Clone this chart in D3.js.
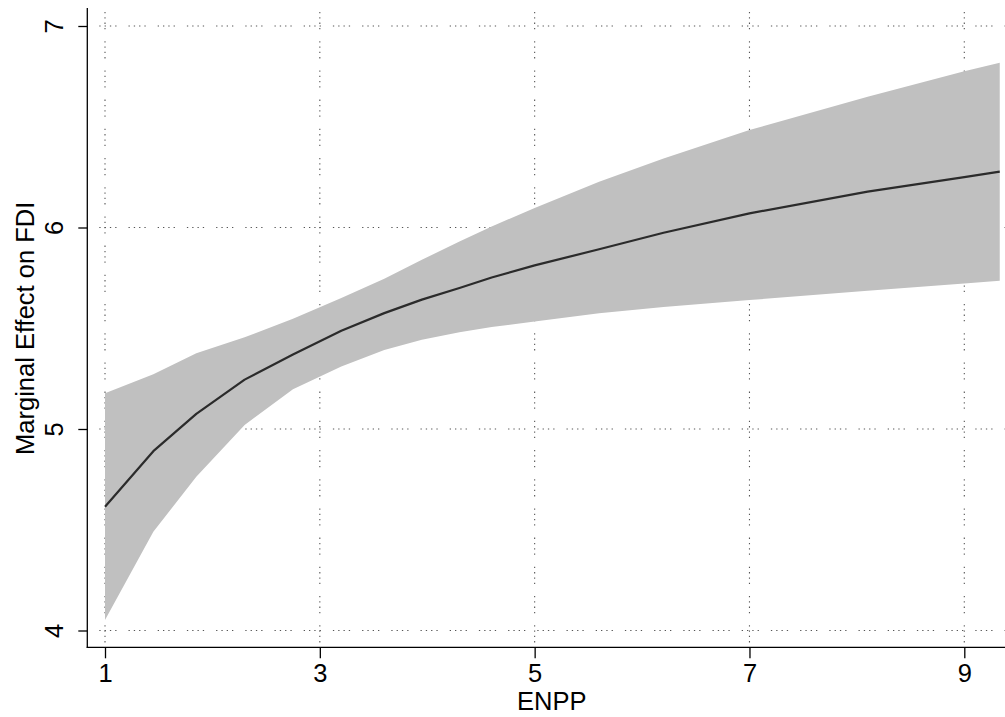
<!DOCTYPE html>
<html>
<head>
<meta charset="utf-8">
<script src="https://cdn.jsdelivr.net/npm/d3@7"></script>
<style>
  html, body { margin: 0; padding: 0; background: #fff; }
  svg { display: block; }
  text { font-family: "Liberation Sans", Arial, Helvetica, sans-serif; fill: #000; }
</style>
</head>
<body>
<svg id="chart" width="1005" height="717"></svg>
<script>
// ---- data ----
const enpp   = [1, 1.45, 1.85, 2.3, 2.75, 3.2, 3.6, 3.95, 4.3, 4.6, 5.0, 5.6, 6.2, 7.0, 8.1, 9.0, 9.33];
const upper  = [5.177, 5.272, 5.376, 5.455, 5.547, 5.650, 5.746, 5.840, 5.930, 6.005, 6.097, 6.227, 6.342, 6.484, 6.649, 6.775, 6.818];
const lower  = [4.052, 4.490, 4.763, 5.020, 5.197, 5.310, 5.392, 5.443, 5.480, 5.506, 5.533, 5.575, 5.605, 5.640, 5.686, 5.722, 5.736];
const effect = [4.614, 4.890, 5.075, 5.245, 5.370, 5.488, 5.575, 5.642, 5.700, 5.752, 5.812, 5.892, 5.974, 6.070, 6.178, 6.250, 6.277];
const xTicks = [1, 3, 5, 7, 9];
const yTicks = [4, 5, 6, 7];
const xTitle = "ENPP";
const yTitle = "Marginal Effect on FDI";

const rows = enpp.map((v, i) => ({ x: v, lo: lower[i], hi: upper[i], y: effect[i] }));

const svg = d3.select("#chart");
svg.append("rect").attr("width", 1005).attr("height", 717).attr("fill", "#fff");

const axisX = 87.3, axisY = 647.3;
const x = d3.scaleLinear().domain([1, 9]).range([105, 964.3]);
const y = d3.scaleLinear().domain([4, 7]).range([630.5, 26]);
const fontSize = 25.5;

// grid (under the band)
const grid = svg.append("g").attr("stroke", "#555").attr("stroke-width", 1.1)
  .attr("stroke-dasharray", "1.3,4,1.3,4,1.3,4,1.3,12");
grid.selectAll("line.h").data(yTicks).join("line")
  .attr("x1", axisX + 12).attr("x2", 1005)
  .attr("y1", d => y(d)).attr("y2", d => y(d));
grid.selectAll("line.v").data(xTicks).join("line")
  .attr("x1", d => x(d)).attr("x2", d => x(d))
  .attr("y1", 12).attr("y2", axisY - 4);

// confidence band
svg.append("path").datum(rows)
  .attr("fill", "#c0c0c0")
  .attr("d", d3.area().x(d => x(d.x)).y0(d => y(d.lo)).y1(d => y(d.hi)));

// marginal effect line
svg.append("path").datum(rows)
  .attr("fill", "none").attr("stroke", "#2b2b2b").attr("stroke-width", 2.2)
  .attr("stroke-linejoin", "round")
  .attr("d", d3.line().x(d => x(d.x)).y(d => y(d.y)));

// axes
const gy = svg.append("g").attr("transform", `translate(${axisX},0)`)
  .call(d3.axisLeft(y).tickValues(yTicks).tickSize(9).tickSizeOuter(0).tickFormat(d3.format("d")));
gy.select(".domain").remove();
gy.selectAll(".tick line").attr("stroke", "#000").attr("stroke-width", 1.3);
gy.selectAll(".tick text")
  .attr("x", null).attr("dy", null)
  .attr("text-anchor", "middle")
  .attr("transform", "translate(-24,0) rotate(-90)")
  .style("font-size", fontSize + "px");

const gx = svg.append("g").attr("transform", `translate(0,${axisY})`)
  .call(d3.axisBottom(x).tickValues(xTicks).tickSize(11).tickSizeOuter(0).tickFormat(d3.format("d")));
gx.select(".domain").remove();
gx.selectAll(".tick line").attr("stroke", "#000").attr("stroke-width", 1.3);
gx.selectAll(".tick text")
  .attr("y", 34.3).attr("dy", null)
  .attr("text-anchor", "middle")
  .style("font-size", fontSize + "px");

svg.selectAll(".tick text").attr("fill", "#000");

// axis lines
svg.append("line").attr("x1", axisX).attr("x2", axisX).attr("y1", 8).attr("y2", axisY + 0.6)
  .attr("stroke", "#000").attr("stroke-width", 1.3);
svg.append("line").attr("x1", axisX - 0.6).attr("x2", 1005).attr("y1", axisY).attr("y2", axisY)
  .attr("stroke", "#000").attr("stroke-width", 1.3);

// titles
svg.append("text").text(xTitle)
  .attr("x", 551.7).attr("y", 710)
  .attr("text-anchor", "middle")
  .style("font-size", fontSize + "px");
svg.append("text").text(yTitle)
  .attr("text-anchor", "middle")
  .attr("transform", "translate(33.5,328.3) rotate(-90)")
  .style("font-size", fontSize + "px");
</script>
</body>
</html>
